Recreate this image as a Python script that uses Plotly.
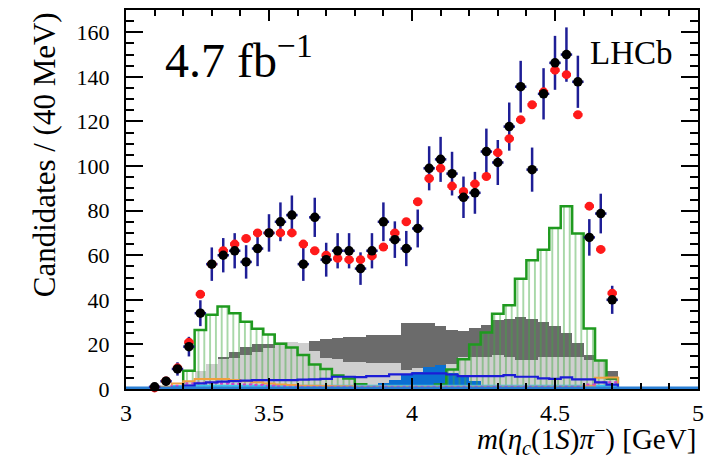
import plotly.graph_objects as go

# ---------------- data ----------------
# bin centres (40 MeV bins)
bin_width = 0.04
centers = [round(3.10 + 0.04 * i, 2) for i in range(41)]

data_vals = [1, 3.5, 9, 19, 34, 56, 60, 62, 57, 63, 70, 75, 78, 56, 77, 58, 62, 62, 54, 62,
             75, 67, 63, 72, 99, 103, 96.6, 86, 88, 106.5, 101.6, 117.7, 135.6, 98.4, 132.4,
             146.3, 150, 137.8, 68, 78.7, 40]
data_errs = [1, 2, 3, 4.4, 5.8, 7.5, 7.7, 7.9, 7.5, 7.9, 8.4, 8.7, 8.8, 7.5, 8.8, 7.6, 7.9, 7.9,
             7.3, 7.9, 8.7, 8.2, 7.9, 8.5, 9.9, 10.1, 9.8, 9.3, 9.4, 10.3, 10.1, 10.8, 11.6, 9.9,
             11.5, 12.1, 12.2, 11.7, 8.2, 8.9, 6.3]
fit_vals = [0.5, 3.6, 9.5, 21, 42.5, 56, 62, 65, 67.5, 70, 70, 70, 70, 65, 62, 60, 58.6, 58,
            58, 59.7, 63.7, 70, 75, 84, 94.4, 99, 91, 88.6, 92, 95.3, 106, 112.3, 120.8, 127.5,
            133.3, 143, 141, 123, 82, 62.6, 43]

green_vals = [0, 0, 0.5, 8.2, 26.5, 33.3, 37, 34, 30.2, 27, 24.5, 20.3, 18.6, 15.3, 11, 9, 6,
              4.7, 2.1, 0, 0, 0, 0, 0, 0.5, 2, 8.8, 13.3, 20, 25.3, 33.7, 37.6, 49.5, 57.7, 62.5,
              72.2, 82, 69.7, 27.1, 12.8, 4.8]
dark_gray_vals = [0, 0, 0, 0, 0, 0, 14.2, 16.7, 18.7, 20.1, 20.4, 20.2, 20, 20, 21.5, 22.5, 23,
                  23.4, 23.4, 24, 24, 24, 29.4, 29.4, 29.4, 28.2, 26.4, 26, 27.2, 28.6, 30.9,
                  31.6, 32.4, 31.6, 30.1, 28.2, 24.9, 20.7, 15.2, 10, 8.2]
light_gray_vals = [0, 0, 0, 3, 8, 11, 13.5, 14, 15.2, 16.7, 18.2, 21, 21, 20.5, 17, 13.7, 13.5,
                   12.2, 12.2, 11.5, 11.5, 11.5, 8.5, 9.2, 9, 10, 11, 14.5, 14.5, 14.5, 15.2,
                   14.5, 13, 13, 14.5, 14.5, 14.5, 14.2, 13, 13, 4]
blue_fill_vals = [0.3, 0.5, 0.5, 0.5, 0.5, 0.5, 0.5, 0.5, 0.5, 0.5, 0.5, 0.5, 0.5, 0.5, 0.5, 0.5,
                  0.5, 0.5, 0.5, 1.5, 2.5, 4, 6.3, 7.5, 9.8, 10.7, 7.2, 5.5, 3.5, 1.5, 0.5, 0.5,
                  0.5, 0.5, 0.5, 0.5, 0.5, 0.5, 0.5, 0.5, 0.5]
dark_blue_vals = [0, 0, 0.5, 1.5, 2.5, 3, 3.3, 3.5, 3.8, 4, 4, 4, 4, 4.2, 4.3, 4.5, 5.5, 5.5,
                  5.3, 5.8, 5.8, 6.6, 6.6, 7, 7, 7, 6.5, 5.8, 5.8, 5.8, 5.8, 6.2, 5.5, 5.5, 4.8,
                  4.5, 5.2, 4.3, 4.3, 3, 2]
orange_vals = [0, 1, 2.5, 3.5, 4.5, 4.5, 4.5, 4, 3.5, 3, 2.5, 2, 1.8, 1.5, 1.5, 1.3, 1.2, 1.2,
               1, 1, 1, 1, 1, 1, 1, 1, 1, 1, 1, 1, 1, 1, 1, 1, 1, 1, 1, 1, 1.5, 5, 5.2]
magenta_vals = [0, 0.5, 1.5, 2.5, 2.8, 2.8, 2.5, 2.2, 2, 1.8, 1.5, 1.2, 1, 1, 1, 1, 1, 1, 1, 1,
                1, 1, 1, 1, 1, 1, 1, 1, 1, 1, 1, 1, 1, 1, 1, 1, 1, 1, 2, 3, 3]
cyan_vals = [0.5, 1, 1.3, 1.5, 1.5, 1.5, 1.5, 1.5, 1.5, 1.5, 1.5, 1.5, 1.5, 1.5, 1.5, 1.5, 1.5,
             1.5, 1.5, 1.5, 1.5, 1.5, 1.5, 1.5, 1.5, 1.5, 1.5, 1.5, 1.5, 1.5, 1.5, 1.5, 1.5, 1.5,
             1.5, 1.5, 1.5, 1.5, 1.5, 1.5, 1.5]
flat_x = [3.0, 5.0]
flat_vals = [0.4, 0.4]

x_ticks = [3, 3.5, 4, 4.5, 5]
x_tick_text = ["3", "3.5", "4", "4.5", "5"]
y_ticks = [0, 20, 40, 60, 80, 100, 120, 140, 160]

# ---------------- helpers ----------------
half = bin_width / 2


def step_xy(vals):
    xs = [centers[0] - half] + [c - half for c in centers] + [centers[-1] + half, centers[-1] + half]
    ys = [0] + list(vals) + [vals[-1], 0]
    return xs, ys


SERIF = "Liberation Serif"
fig = go.Figure()

# filled histograms
fig.add_trace(go.Bar(x=centers, y=dark_gray_vals, width=bin_width,
                     marker=dict(color="#6b6b6b", line=dict(width=0))))
fig.add_trace(go.Bar(x=centers, y=light_gray_vals, width=bin_width,
                     marker=dict(color="#cfcfcf", line=dict(width=0))))
fig.add_trace(go.Bar(x=centers, y=blue_fill_vals, width=bin_width,
                     marker=dict(color="#0a6fd2", line=dict(width=0))))
# green hatched histogram
fig.add_trace(go.Bar(x=centers, y=green_vals, width=bin_width,
                     marker=dict(color="rgba(0,0,0,0)", line=dict(width=0),
                                 pattern=dict(shape="|", fgcolor="#3fa83f", bgcolor="rgba(0,0,0,0)",
                                              size=5.8, solidity=0.3, fillmode="overlay"))))
gx, gy = step_xy(green_vals)
fig.add_trace(go.Scatter(x=gx, y=gy, mode="lines", line=dict(color="#1f9a1f", width=2.5, shape="hv")))

# line histograms
for vals, col, dash, w in [(cyan_vals, "#35c6ee", "solid", 2),
                           (orange_vals, "#f0a040", "solid", 2),
                           (magenta_vals, "#d040d0", "dot", 2),
                           (dark_blue_vals, "#1c1cd6", "solid", 2.2)]:
    sx, sy = step_xy(vals)
    fig.add_trace(go.Scatter(x=sx, y=sy, mode="lines",
                             line=dict(color=col, width=w, shape="hv", dash=dash)))

fig.add_trace(go.Scatter(x=flat_x, y=flat_vals, mode="lines",
                         line=dict(color="#2a7fd4", width=3), cliponaxis=False))

# data error bars (dark blue)
fig.add_trace(go.Scatter(x=centers, y=data_vals, mode="markers",
                         marker=dict(size=1, color="rgba(0,0,0,0)"),
                         error_y=dict(type="data", array=data_errs, color="#1e1e96", thickness=2.5, width=0),
                         error_x=dict(type="constant", value=half, color="#1e1e96", thickness=2.5, width=0),
                         cliponaxis=False))
# fit points (red)
fig.add_trace(go.Scatter(x=centers, y=fit_vals, mode="markers",
                         marker=dict(size=9, color="#ff1a1a", line=dict(width=0)),
                         error_x=dict(type="constant", value=half * 0.8, color="#ff1a1a", thickness=3.5, width=0),
                         cliponaxis=False))
# data points (black)
fig.add_trace(go.Scatter(x=centers, y=data_vals, mode="markers",
                         marker=dict(size=9.5, color="black", line=dict(width=0)),
                         cliponaxis=False))

axis_common = dict(showline=True, linecolor="black", linewidth=2, mirror="allticks",
                   ticks="inside", tickcolor="black", tickwidth=1.5, showgrid=False, zeroline=False,
                   automargin=False)

fig.update_layout(
    width=706, height=450,
    margin=dict(l=118, r=16, t=2, b=69),
    paper_bgcolor="white", plot_bgcolor="white",
    barmode="overlay", bargap=0, showlegend=False,
    xaxis=dict(range=[3, 5], tickvals=x_ticks, ticktext=x_tick_text, ticklen=11,
               tickfont=dict(family=SERIF, size=24, color="black"), ticklabelstandoff=1,
               minor=dict(dtick=0.1, ticks="inside", ticklen=6, tickcolor="black", tickwidth=1.5),
               **axis_common),
    yaxis=dict(range=[0, 170], tickvals=y_ticks, ticklen=17,
               tickfont=dict(family=SERIF, size=22, color="black"), ticklabelstandoff=10,
               minor=dict(dtick=5, ticks="inside", ticklen=8, tickcolor="black", tickwidth=1.5),
               **axis_common),
    annotations=[
        dict(text="Candidates / (40 MeV)", textangle=-90, xref="paper", yref="paper",
             x=-0.142, y=1.0, xanchor="center", yanchor="top", showarrow=False,
             font=dict(family=SERIF, size=31, color="black")),
        dict(text="<i>m</i>(<i>η</i><sub><i>c</i></sub>(1<i>S</i>)<i>π</i><sup>−</sup>) [GeV]",
             xref="paper", yref="paper", x=1.0, y=-0.132, xanchor="right", yanchor="middle",
             showarrow=False, font=dict(family=SERIF, size=29, color="black")),
        dict(text="4.7 fb<sup>−1</sup>", xref="paper", yref="paper", x=0.065, y=0.875,
             xanchor="left", yanchor="middle", showarrow=False,
             font=dict(family=SERIF, size=48, color="black")),
        dict(text="LHCb", xref="paper", yref="paper", x=0.808, y=0.887,
             xanchor="left", yanchor="middle", showarrow=False,
             font=dict(family=SERIF, size=33, color="black")),
    ],
)

fig.write_html("out.html")
